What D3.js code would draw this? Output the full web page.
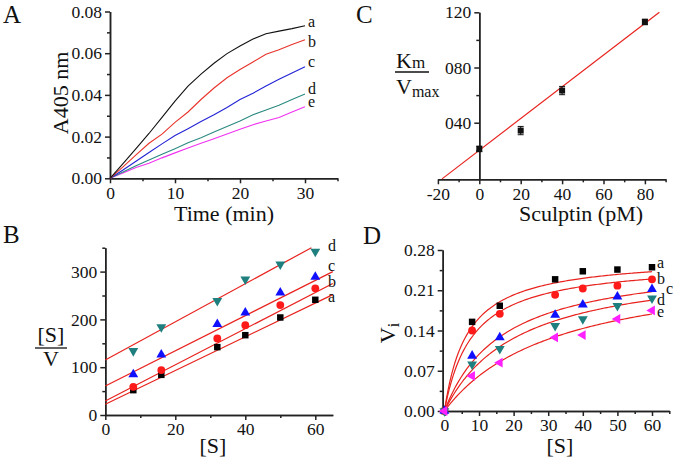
<!DOCTYPE html>
<html>
<head>
<meta charset="utf-8">
<script src="https://cdn.jsdelivr.net/npm/d3@7"></script>
<style>
  body { margin: 0; background: #fff; }
  svg { display: block; }
  .domain, .tick line { stroke: #222; stroke-width: 1.5; }
  .lab { font-family: "Liberation Serif", "Times New Roman", serif; fill: #111; }
  .tick text.lab { font-size: 17.5px; }
</style>
</head>
<body>
<script>
(function(){

//series names shared by the panels
var seriesNames = ["a", "b", "c", "d", "e"];

//panel A: absorbance over time
var timeMin = [0, 2, 4, 6, 8, 10, 12, 14, 16, 18, 20, 22, 24, 26, 28, 30];
var absA = [0, 0.0070, 0.0142, 0.0215, 0.0292, 0.0370, 0.0442, 0.0500, 0.0552, 0.0598, 0.0635, 0.0668, 0.0693, 0.0706, 0.0718, 0.0732];
var absB = [0, 0.0055, 0.0112, 0.0168, 0.0212, 0.0268, 0.0318, 0.0378, 0.0433, 0.0482, 0.0522, 0.0558, 0.0595, 0.0617, 0.0642, 0.0665];
var absC = [0, 0.0040, 0.0082, 0.0124, 0.0165, 0.0205, 0.0238, 0.0272, 0.0305, 0.0340, 0.0378, 0.0408, 0.0443, 0.0475, 0.0505, 0.0535];
var absD = [0, 0.0030, 0.0060, 0.0088, 0.0115, 0.0142, 0.0170, 0.0195, 0.0222, 0.0248, 0.0275, 0.0305, 0.0328, 0.0350, 0.0378, 0.0404];
var absE = [0, 0.0025, 0.0052, 0.0072, 0.0098, 0.0122, 0.0145, 0.0168, 0.0190, 0.0212, 0.0235, 0.0257, 0.0275, 0.0292, 0.0318, 0.0343];

//panel B: Hanes-Woolf plot
var substrate = [8, 16, 32, 40, 50, 60];
var hwA = [52, 84, 142, 167, 204, 241];
var hwB = [59, 94, 160, 188, 230, 265];
var hwC = [85, 126, 190, 214, 256, 289];
var hwD = [134, 184, 239, 284, 315, 342];
var hwIntercept = [22.4, 29.3, 60.7, 115];
var hwSlope = [3.53, 3.78, 3.68, 3.99];

//panel C: replot against sculptin
var sculptin = [0, 20, 40, 80];
var kmVmax = [21, 34.3, 63.3, 113];
var kmVmaxErr = [2, 3, 3, 2];
var cFitIntercept = 20, cFitSlope = 1.15;
var cTickVals = [40, 80, 120];
var cTickLabels = ["040", "080", "120"];

//panel D: Michaelis-Menten plot
var substrateD = [0, 8, 16, 32, 40, 50, 60];
var viA = [0, 0.155, 0.183, 0.229, 0.243, 0.246, 0.250];
var viB = [0, 0.140, 0.169, 0.202, 0.213, 0.218, 0.229];
var viC = [0, 0.096, 0.128, 0.167, 0.185, 0.199, 0.212];
var viD = [0, 0.081, 0.108, 0.148, 0.160, 0.183, 0.196];
var viE = [0, 0.061, 0.084, 0.128, 0.132, 0.160, 0.175];
var mmVmax = [0.2692, 0.2609, 0.2665, 0.2618, 0.2604];
var mmKm = [6.67, 8.17, 17.05, 21.4, 32.6];

//colours and marker shapes
var lineColors = ["#111111", "#e8332b", "#2323d6", "#2a8a80", "#f032f0"];
var markColors = ["#000000", "#ff1a1a", "#1010ff", "#1f7f7f", "#ff20ff"];
var markShapes = [d3.symbolSquare, d3.symbolCircle, d3.symbolTriangle, d3.symbolTriangle, d3.symbolTriangle];
var markRotate = [0, 0, 0, 180, -90];
var markSize = [42, 48, 42, 42, 42];
var fitColor = "#e8231e";

var svg = d3.select("body")
    .append("svg")
    .attr("width", 675)
    .attr("height", 466);

svg.append("rect").attr("width", 675).attr("height", 466).attr("fill", "#fff");

//axis helper: major ticks with labels, minor ticks without
function drawAxis(maker, scale, pos, majors, minors, fmt){
  var isX = (maker === d3.axisBottom);
  var g = svg.append("g")
      .attr("transform", isX ? "translate(0," + pos + ")" : "translate(" + pos + ",0)");
  g.append("g").call(maker(scale).tickValues(minors).tickSize(3).tickSizeOuter(0).tickFormat(""));
  g.append("g").call(maker(scale).tickValues(majors).tickSize(5).tickSizeOuter(0).tickFormat(fmt));
  g.selectAll("g").attr("font-family", null).attr("font-size", null);
  g.selectAll("text").attr("class", "lab").attr("fill", null);
  return g;
}

function addText(x, y, str, size, anchor, rotate){
  var t = svg.append("text")
      .attr("class", "lab")
      .attr("x", x).attr("y", y)
      .attr("font-size", size)
      .attr("text-anchor", anchor || "start")
      .text(str);
  if (rotate) t.attr("transform", "rotate(" + rotate + "," + x + "," + y + ")");
  return t;
}

function drawMarks(xs, ys, xScale, yScale, i){
  var sym = d3.symbol().type(markShapes[i]).size(markSize[i]);
  svg.append("g").selectAll("path")
      .data(xs)
      .enter()
      .append("path")
      .attr("d", sym)
      .attr("fill", markColors[i])
      .attr("transform", function(d, j){
        return "translate(" + xScale(d) + "," + yScale(ys[j]) + ") rotate(" + markRotate[i] + ")";
      });
}

//---------------- panel A ----------------
var xA = d3.scaleLinear().domain([0, 35]).range([110, 337.5]);
var yA = d3.scaleLinear().domain([0, 0.08]).range([178.3, 11.5]);
var seriesA = [absA, absB, absC, absD, absE];

drawAxis(d3.axisBottom, xA, yA(0), [0, 10, 20, 30], [5, 15, 25, 35], String);
drawAxis(d3.axisLeft, yA, xA(0), [0, 0.02, 0.04, 0.06, 0.08], [0.01, 0.03, 0.05, 0.07], d3.format(".2f"));

var lineA = d3.line()
    .x(function(d, j){ return xA(timeMin[j]); })
    .y(function(d){ return yA(d); });

seriesA.slice().reverse().forEach(function(vals, k){
  var i = seriesA.length - 1 - k;
  svg.append("path")
      .attr("d", lineA(vals))
      .attr("fill", "none")
      .attr("stroke", lineColors[i])
      .attr("stroke-width", 1.1);
});

var labelYA = [27, 47, 67, 94, 107];
seriesNames.forEach(function(n, i){ addText(308, labelYA[i], n, 16); });

addText(3, 23, "A", 25);
addText(68, 93, "A405 nm", 22, "middle", -90);
addText(224, 221, "Time (min)", 22, "middle");

//---------------- panel B ----------------
var xB = d3.scaleLinear().domain([0, 65]).range([105.3, 332.8]);
var yB = d3.scaleLinear().domain([0, 350]).range([415, 247.7]);
var seriesB = [hwA, hwB, hwC, hwD];

drawAxis(d3.axisBottom, xB, yB(0), [0, 20, 40, 60], [10, 30, 50], String);
drawAxis(d3.axisLeft, yB, xB(0), [0, 100, 200, 300], [50, 150, 250, 350], String);

seriesB.forEach(function(vals, i){
  var xEnd = Math.min(65, (350 - hwIntercept[i]) / hwSlope[i]);
  svg.append("line")
      .attr("x1", xB(0)).attr("y1", yB(hwIntercept[i]))
      .attr("x2", xB(xEnd)).attr("y2", yB(hwIntercept[i] + hwSlope[i] * xEnd))
      .attr("stroke", fitColor)
      .attr("stroke-width", 1.2);
});
seriesB.forEach(function(vals, i){ drawMarks(substrate, vals, xB, yB, i); });

var labelYB = [302, 287, 271, 251];
["a", "b", "c", "d"].forEach(function(n, i){ addText(328, labelYB[i], n, 16); });

addText(3, 243, "B", 25);
addText(51, 342, "[S]", 22, "middle");
svg.append("line").attr("x1", 35).attr("x2", 67).attr("y1", 348).attr("y2", 348)
    .attr("stroke", "#111").attr("stroke-width", 1.3);
addText(51, 366, "V", 22, "middle");
addText(213, 453, "[S]", 22, "middle");

//---------------- panel C ----------------
var xC = d3.scaleLinear().domain([-20, 90]).range([437.9, 665.6]);
var yC = d3.scaleLinear().domain([-1, 120]).range([179.3, 12.3]);

drawAxis(d3.axisBottom, xC, yC(-1), [-20, 0, 20, 40, 60, 80], [-10, 10, 30, 50, 70, 90], String);
drawAxis(d3.axisLeft, yC, xC(0), cTickVals, [20, 60, 100], function(d){
  return cTickLabels[cTickVals.indexOf(d)];
});

var cx0 = -18, cx1 = 87;
svg.append("line")
    .attr("x1", xC(cx0)).attr("y1", yC(cFitIntercept + cFitSlope * cx0))
    .attr("x2", xC(cx1)).attr("y2", yC(cFitIntercept + cFitSlope * cx1))
    .attr("stroke", fitColor)
    .attr("stroke-width", 1.2);

var errG = svg.append("g").attr("stroke", "#111").attr("stroke-width", 1);
sculptin.forEach(function(s, j){
  var x = xC(s), lo = yC(kmVmax[j] - kmVmaxErr[j]), hi = yC(kmVmax[j] + kmVmaxErr[j]);
  errG.append("line").attr("x1", x).attr("x2", x).attr("y1", lo).attr("y2", hi);
  errG.append("line").attr("x1", x - 3).attr("x2", x + 3).attr("y1", lo).attr("y2", lo);
  errG.append("line").attr("x1", x - 3).attr("x2", x + 3).attr("y1", hi).attr("y2", hi);
});
svg.append("g").selectAll("rect")
    .data(sculptin)
    .enter()
    .append("rect")
    .attr("x", function(d){ return xC(d) - 3; })
    .attr("y", function(d, j){ return yC(kmVmax[j]) - 3; })
    .attr("width", 6).attr("height", 6)
    .attr("fill", "#111");

addText(356, 23, "C", 25);
var km = addText(396, 68, "K", 22);
km.append("tspan").attr("font-size", 17).text("m");
svg.append("line").attr("x1", 395).attr("x2", 429).attr("y1", 72).attr("y2", 72)
    .attr("stroke", "#111").attr("stroke-width", 1.3);
var vm = addText(396, 94, "V", 22);
vm.append("tspan").attr("font-size", 16).attr("dy", 3).text("max");
addText(581, 221, "Sculptin (pM)", 22, "middle");

//---------------- panel D ----------------
var xD = d3.scaleLinear().domain([-0.5, 65]).range([442.7, 669.3]);
var yD = d3.scaleLinear().domain([0, 0.28]).range([411, 250]);
var seriesD = [viA, viB, viC, viD, viE];

drawAxis(d3.axisBottom, xD, yD(0), [0, 10, 20, 30, 40, 50, 60], [5, 15, 25, 35, 45, 55, 65], String);
drawAxis(d3.axisLeft, yD, xD(-0.5), [0, 0.07, 0.14, 0.21, 0.28], [0.035, 0.105, 0.175, 0.245], d3.format(".2f"));

var sGrid = d3.range(0, 60.01, 0.5);
mmVmax.forEach(function(vm, i){
  var curve = d3.line()
      .x(function(s){ return xD(s); })
      .y(function(s){ return yD(vm * s / (mmKm[i] + s)); });
  svg.append("path")
      .attr("d", curve(sGrid))
      .attr("fill", "none")
      .attr("stroke", fitColor)
      .attr("stroke-width", 1.2);
});
seriesD.forEach(function(vals, i){ drawMarks(substrateD, vals, xD, yD, i); });

var labelXD = [657, 657, 666, 657, 657];
var labelYD = [268, 284, 294, 305, 317];
seriesNames.forEach(function(n, i){ addText(labelXD[i], labelYD[i], n, 16); });

addText(363, 244, "D", 25);
var vi = addText(395, 333, "V", 22, "middle", -90);
vi.append("tspan").attr("font-size", 16).attr("dy", 4).text("i");
addText(560, 453, "[S]", 22, "middle");

})();
</script>
</body>
</html>
